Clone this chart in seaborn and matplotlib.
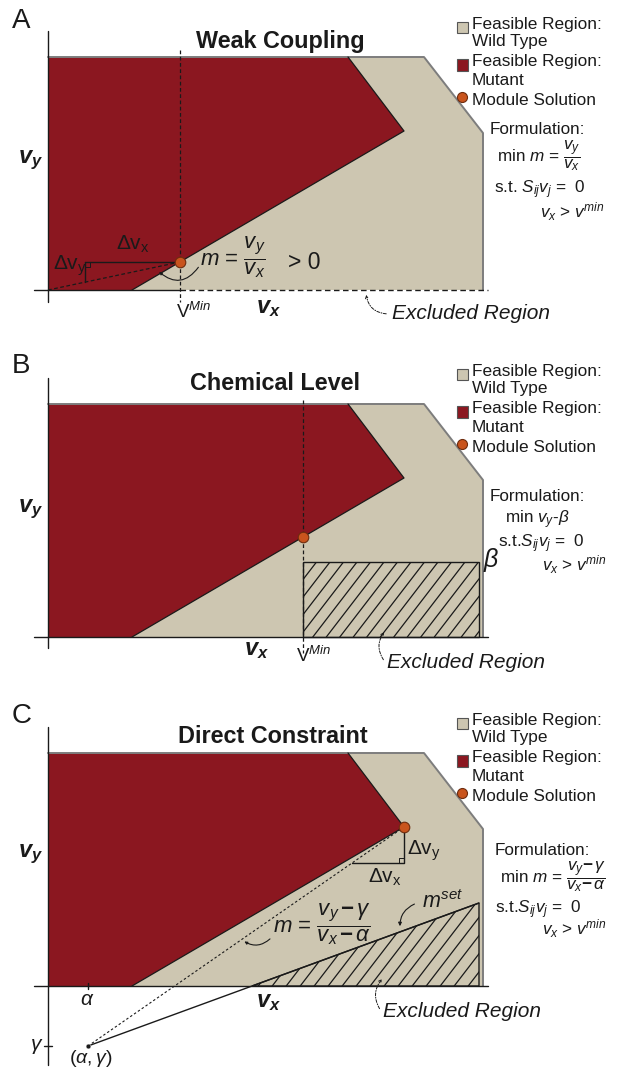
import numpy as np
import matplotlib
matplotlib.use("Agg")
import matplotlib.pyplot as plt
from matplotlib.patches import Polygon, Rectangle, FancyArrowPatch
import seaborn as sns

sns.set_style("white")
plt.rcParams["font.family"] = ["Liberation Sans", "DejaVu Sans"]
plt.rcParams.update({
    "mathtext.fontset": "custom",
    "mathtext.rm": "Liberation Sans",
    "mathtext.it": "Liberation Sans:italic",
    "mathtext.bf": "Liberation Sans:bold",
    "mathtext.bfit": "Liberation Sans:bold:italic",
    "mathtext.sf": "Liberation Sans",
})

# ---- flux-space geometry, origin at (v_x, v_y) = (0, 0) ----
wt_vx = [0, 0, 376, 435, 435]
wt_vy = [0, 233, 233, 157, 0]
mut_vx = [0, 0, 300, 356, 84]
mut_vy = [0, 233, 233, 159, 0]

# module solutions of the three formulations
sol_a = (132, 28)
sol_b = (255, 100)
sol_c = (356, 159)

v_min_a = 132
v_min_b = 255
beta_level = 75
excl_right = 431
alpha_gamma = (40, -60)
m_set_end = (431, 83)

panel_letters = ["A", "B", "C"]
panel_titles = ["Weak Coupling", "Chemical Level", "Direct Constraint"]
legend_labels = ["Feasible Region:", "Wild Type", "Feasible Region:", "Mutant",
                 "Module Solution"]

WT_FACE = "#cdc6b1"
WT_EDGE = "#7d7d7d"
MUT_FACE = "#8b1720"
SOL_FACE = "#c9541d"
SOL_EDGE = "#6e2c0e"
INK = "#1a1a1a"

W, H = 628, 1071
fig = plt.figure(figsize=(W / 100, H / 100), dpi=100)
fig.patch.set_facecolor("white")


def panel(top, bottom, origin):
    ax = fig.add_axes([0, 1 - bottom / H, 1, (bottom - top) / H])
    ax.axis("off")
    lims = ((-48, W - 48), (origin - bottom, origin - top))
    return ax, lims


def seg(ax, xs, ys, **kw):
    kw.setdefault("color", INK)
    kw.setdefault("lw", 1.0)
    kw.setdefault("zorder", 3)
    sns.lineplot(x=list(xs), y=list(ys), ax=ax, sort=False, estimator=None,
                 legend=False, **kw)


def solution(ax, pt, s=58):
    sns.scatterplot(x=[pt[0]], y=[pt[1]], ax=ax, s=s, color=SOL_FACE,
                    edgecolor=SOL_EDGE, linewidth=0.8, zorder=8, legend=False)


def leader(ax, start, end, rad, style="-|>", ls="-", ms=6, lw=0.8):
    ax.add_patch(FancyArrowPatch(start, end, connectionstyle=f"arc3,rad={rad}",
                                 arrowstyle=style, mutation_scale=ms, lw=lw,
                                 color=INK, linestyle=ls, zorder=6))


def hatch(ax, xy, spacing=13.5, slope=1.3):
    clip = Polygon(xy, closed=True, facecolor="none", edgecolor=INK, lw=1.0,
                   zorder=4)
    ax.add_patch(clip)
    xs = [p[0] for p in xy]
    ys = [p[1] for p in xy]
    y0, y1 = min(ys), max(ys)
    run = (y1 - y0) / slope
    for x0 in np.arange(min(xs) - run, max(xs) + spacing, spacing):
        ln, = ax.plot([x0, x0 + run], [y0, y1], color=INK, lw=0.9, zorder=4)
        ln.set_clip_path(clip)


def base(ax, letter, letter_top, title, title_x, title_base, vy_base,
         axis_bottom, vx_pos, excl_pos, excl_leader):
    ax.fill(wt_vx, wt_vy, color=WT_FACE, lw=0, zorder=1)
    ax.fill(mut_vx, mut_vy, color=MUT_FACE, lw=0, zorder=2)
    # wild-type outline (top, chamfer, right side)
    seg(ax, wt_vx[1:], wt_vy[1:], color=WT_EDGE, lw=1.4, zorder=2.5)
    # mutant cut edges
    seg(ax, mut_vx[2:], mut_vy[2:], color=INK, lw=0.9, zorder=2.6)
    # y axis
    seg(ax, [0, 0], [259, axis_bottom], lw=1.0)

    # legend
    lx = 424
    rows = [261, 244, 224, 205, 185]
    for yb, lab in zip(rows, legend_labels):
        ax.text(lx, yb, lab, fontsize=12.4, va="baseline", ha="left",
                color=INK, zorder=7)
    ax.add_patch(Rectangle((409, 257), 11, 11, facecolor=WT_FACE,
                           edgecolor="#555555", lw=0.8, zorder=7))
    ax.add_patch(Rectangle((409, 219), 11, 12, facecolor=MUT_FACE,
                           edgecolor="#555555", lw=0.8, zorder=7))
    solution(ax, (414, 193), s=52)

    ax.text(-36, letter_top, letter, fontsize=20, va="top", ha="left",
            color=INK)
    ax.text(title_x, title_base, title, fontsize=16.8, fontweight="bold",
            ha="center", va="baseline", color=INK)
    ax.text(-30, vy_base, r"$\mathbfit{v}_\mathbfit{y}$", fontsize=17,
            va="baseline", ha="left", color=INK)
    ax.text(vx_pos[0], vx_pos[1], r"$\mathbfit{v}_\mathbfit{x}$", fontsize=17,
            va="baseline", ha="left", color=INK)
    ax.text(excl_pos[0], excl_pos[1], "Excluded Region", fontsize=15,
            style="italic", va="baseline", ha="left", color=INK)
    leader(ax, excl_leader[0], excl_leader[1], excl_leader[2], style="->",
           ls=(0, (3, 1.5, 1, 1.5)), ms=5, lw=0.7)


def formulation(ax, lines):
    for (x, y), s in lines:
        ax.text(x, y, s, fontsize=12.3, va="baseline", ha="left", color=INK)


# ---------------- A: weak coupling ----------------
axA, limA = panel(0, 340, 290)
base(axA, panel_letters[0], 282, panel_titles[0], 232, 242, 127, -12,
     (208, -23), (344, -29), ((341, -24), (318, -2), -0.45))
seg(axA, [-14, v_min_a], [0, 0], lw=1.0)
seg(axA, [v_min_a, 440], [0, 0], lw=1.0, linestyle=(0, (4, 2.5)))
seg(axA, [v_min_a, v_min_a], [240, -12], lw=0.9, linestyle=(0, (3, 2)))
seg(axA, [0, sol_a[0]], [0, sol_a[1]], lw=0.9, linestyle=(0, (3, 2)))
seg(axA, [37, sol_a[0]], [sol_a[1], sol_a[1]], lw=1.0)
seg(axA, [37, 37], [sol_a[1], 8], lw=1.0)
seg(axA, [37, 42, 42], [23, 23, sol_a[1]], lw=0.7)
leader(axA, (152, 25), (109, 20), -0.58, style="-|>", ms=4, lw=0.8)
solution(axA, sol_a)
axA.text(68, 40, r"$\Delta\mathrm{v}_\mathrm{x}$", fontsize=15, va="baseline",
         ha="left", color=INK)
axA.text(5, 20, r"$\Delta\mathrm{v}_\mathrm{y}$", fontsize=15, va="baseline",
         ha="left", color=INK)
axA.text(152, 24, r"$m$ = $\dfrac{v_y}{v_x}$", fontsize=16, va="baseline",
         ha="left", color=INK, zorder=7)
axA.text(240, 21, "> 0", fontsize=16.5, va="baseline", ha="left", color=INK)
axA.text(128, -28, r"$\mathrm{V}^{Min}$", fontsize=13.5, va="baseline",
         ha="left", color=INK)
formulation(axA, [((442, 156), "Formulation:"),
                  ((449, 128), r"min $m$ = $\dfrac{v_y}{v_x}$"),
                  ((446, 97), r"s.t. $S_{ij}v_j$ =  0"),
                  ((492, 72), r"$v_x$ > $v^{min}$")])

# ---------------- B: chemical level ----------------
axB, limB = panel(340, 690, 637)
base(axB, panel_letters[1], 284, panel_titles[1], 227, 247, 125, -11,
     (196, -18), (339, -31), ((337, -25), (338, 7), -0.4))
seg(axB, [-14, 440], [0, 0], lw=1.0)
hatch(axB, [(v_min_b, 0), (excl_right, 0), (excl_right, beta_level),
            (v_min_b, beta_level)])
seg(axB, [v_min_b, v_min_b], [237, -16], lw=0.9, linestyle=(0, (3, 2)),
    zorder=5)
solution(axB, sol_b)
axB.text(248, -25, r"$\mathrm{V}^{Min}$", fontsize=13.5, va="baseline",
         ha="left", color=INK)
axB.text(435, 77, r"$\beta$", fontsize=18, va="center", ha="left", color=INK)
formulation(axB, [((442, 136), "Formulation:"),
                  ((457, 114), r"min $v_y$-$\beta$"),
                  ((450, 90), r"s.t.$S_{ij}v_j$ =  0"),
                  ((494, 66), r"$v_x$ > $v^{min}$")])

# ---------------- C: direct constraint ----------------
axC, limC = panel(690, 1071, 986)
base(axC, panel_letters[2], 283, panel_titles[2], 225, 243, 129, -79,
     (208, -21), (335, -31), ((333, -25), (336, 9), -0.4))
seg(axC, [-14, 440], [0, 0], lw=1.0)
ag_x, ag_y = alpha_gamma
x_cross = ag_x - ag_y * (m_set_end[0] - ag_x) / (m_set_end[1] - ag_y)
hatch(axC, [(x_cross, 0), m_set_end, (m_set_end[0], 0)], spacing=14)
seg(axC, [ag_x, m_set_end[0]], [ag_y, m_set_end[1]], lw=1.0, zorder=4.5)
seg(axC, [ag_x, sol_c[0]], [ag_y, sol_c[1]], lw=0.8, linestyle=(0, (2.2, 2)))
seg(axC, [ag_x, ag_x], [-3, 3], lw=1.0)
seg(axC, [-4, 4], [ag_y, ag_y], lw=1.0)
sns.scatterplot(x=[ag_x], y=[ag_y], ax=axC, s=12, color=INK, zorder=6,
                legend=False)
seg(axC, [sol_c[0], sol_c[0], 304], [sol_c[1], 123, 123], lw=1.0, zorder=4)
seg(axC, [351, 351, sol_c[0]], [123, 128, 128], lw=0.7, zorder=4)
solution(axC, sol_c)
axC.text(359, 131, r"$\Delta\mathrm{v}_\mathrm{y}$", fontsize=15,
         va="baseline", ha="left", color=INK)
axC.text(320, 103, r"$\Delta\mathrm{v}_\mathrm{x}$", fontsize=15,
         va="baseline", ha="left", color=INK)
axC.text(225, 53, r"$m$ = $\dfrac{v_y\,\mathbf{-}\,\gamma}{v_x\,\mathbf{-}\,\alpha}$",
         fontsize=16, va="baseline", ha="left", color=INK, zorder=7)
leader(axC, (224, 49), (194, 46), -0.42, style="-|>", ms=4, lw=0.8)
axC.text(374, 78, r"$m^{set}$", fontsize=15.5, va="baseline", ha="left",
         color=INK)
leader(axC, (369, 83), (352, 57), 0.37, style="-|>", ms=5, lw=0.8)
axC.text(39, -19, r"$\alpha$", fontsize=15, va="baseline", ha="center",
         color=INK)
axC.text(-5, -64, r"$\gamma$", fontsize=15, va="baseline", ha="right",
         color=INK)
axC.text(43, -77, r"$(\alpha,\gamma)$", fontsize=14, va="baseline",
         ha="center", color=INK)
formulation(axC, [((447, 131), "Formulation:"),
                  ((452, 103), r"min $m$ = $\dfrac{v_y\mathbf{-}\,\gamma}{v_x\mathbf{-}\,\alpha}$"),
                  ((447, 73), r"s.t.$S_{ij}v_j$ =  0"),
                  ((494, 51), r"$v_x$ > $v^{min}$")])

for ax, (xl, yl) in ((axA, limA), (axB, limB), (axC, limC)):
    ax.set_xlim(*xl)
    ax.set_ylim(*yl)
    ax.set_xlabel("")
    ax.set_ylabel("")

fig.savefig("out.png", dpi=100, facecolor="white")
